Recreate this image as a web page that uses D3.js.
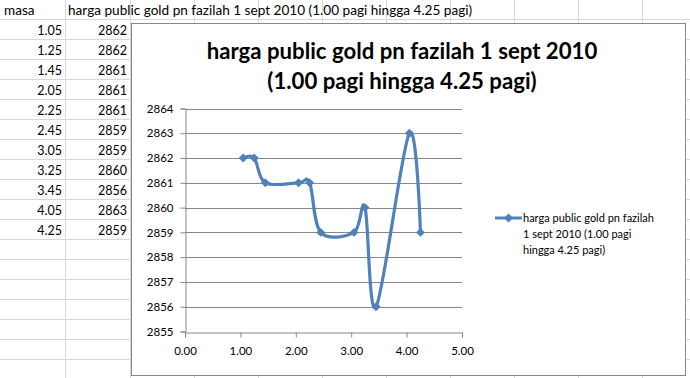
<!DOCTYPE html>
<html>
<head>
<meta charset="utf-8">
<script src="https://cdn.jsdelivr.net/npm/d3@7"></script>
<style>
  html, body { margin: 0; padding: 0; background: #fff; }
  svg { display: block; font-family: Lato, "Open Sans", sans-serif; }
</style>
</head>
<body>
<script>
// sheet columns
const masa = [1.05, 1.25, 1.45, 2.05, 2.25, 2.45, 3.05, 3.25, 3.45, 4.05, 4.25];
const harga = [2862, 2862, 2861, 2861, 2861, 2859, 2859, 2860, 2856, 2863, 2859];
const headers = ["masa", "harga public gold pn fazilah 1 sept 2010 (1.00 pagi hingga 4.25 pagi)"];

const titleLines = ["harga public gold pn fazilah 1 sept 2010", "(1.00 pagi hingga 4.25 pagi)"];
const legendLines = ["harga public gold pn fazilah", "1 sept 2010 (1.00 pagi", "hingga 4.25 pagi)"];
const yTicks = [2855, 2856, 2857, 2858, 2859, 2860, 2861, 2862, 2863, 2864];
const xTicks = [0, 1, 2, 3, 4, 5];

const width = 690;
const height = 378;
const blue = "#4f81bd";

const svg = d3.select("body").append("svg")
  .attr("width", width)
  .attr("height", height);

// spreadsheet grid behind the chart
const colLines = [65, 130, 194, 258, 322, 386, 450, 514, 578, 642];
const rowLines = d3.range(19.5, height, 20);

svg.append("g")
  .attr("stroke", "#d6d8db")
  .selectAll("line.col")
  .data(colLines)
  .join("line")
  .attr("x1", (d) => d + 0.5).attr("x2", (d) => d + 0.5)
  .attr("y1", 0).attr("y2", height);

svg.append("g")
  .attr("stroke", "#d6d8db")
  .selectAll("line.row")
  .data(rowLines)
  .join("line")
  .attr("x1", 0).attr("x2", width)
  .attr("y1", (d) => d).attr("y2", (d) => d);

const cells = svg.append("g").attr("font-size", 12.5).attr("fill", "#000");

cells.append("text").attr("x", 4).attr("y", 15).attr("font-size", 13.6).text(headers[0]);
cells.append("text").attr("x", 68).attr("y", 15).attr("font-size", 13.6).text(headers[1]);

cells.selectAll("text.masa")
  .data(masa)
  .join("text")
  .attr("x", 62)
  .attr("y", (d, i) => 35 + i * 20)
  .attr("text-anchor", "end")
  .text((d) => d.toFixed(2));

cells.selectAll("text.harga")
  .data(harga)
  .join("text")
  .attr("x", 127)
  .attr("y", (d, i) => 35 + i * 20)
  .attr("text-anchor", "end")
  .text((d) => d);

// chart object
const chart = svg.append("g");

chart.append("rect")
  .attr("x", 131.5).attr("y", 23.5)
  .attr("width", 554).attr("height", 352)
  .attr("fill", "#fff")
  .attr("stroke", "#888");

chart.append("g")
  .attr("font-size", 22.2)
  .attr("font-weight", "bold")
  .attr("text-anchor", "middle")
  .selectAll("text")
  .data(titleLines)
  .join("text")
  .attr("x", 402)
  .attr("y", (d, i) => 59 + i * 30)
  .text((d) => d);

const xScale = d3.scaleLinear().domain([0, 5]).range([185, 462]);
const yScale = d3.scaleLinear().domain([2855, 2864]).range([331.5, 108.5]);

// horizontal gridlines
chart.append("g")
  .attr("stroke", "#878787")
  .selectAll("line")
  .data(yTicks.slice(1))
  .join("line")
  .attr("x1", xScale(0)).attr("x2", xScale(5))
  .attr("y1", (d) => Math.round(yScale(d)) + 0.5)
  .attr("y2", (d) => Math.round(yScale(d)) + 0.5);

const yAxis = d3.axisLeft(yScale)
  .tickValues(yTicks)
  .tickSize(5)
  .tickPadding(7)
  .tickFormat((d) => d);

const xAxis = d3.axisBottom(xScale)
  .tickValues(xTicks)
  .tickSize(5)
  .tickPadding(9)
  .tickFormat((d) => d.toFixed(2));

const gy = chart.append("g")
  .attr("transform", `translate(${xScale(0) + 0.5} 0)`)
  .call(yAxis);

const gx = chart.append("g")
  .attr("transform", `translate(0 ${Math.round(yScale(2855)) + 0.5})`)
  .call(xAxis);

[gx, gy].forEach((g) => {
  g.select(".domain").attr("stroke", "#878787");
  g.selectAll(".tick line").attr("stroke", "#878787");
  g.selectAll(".tick text")
    .attr("font-family", "Lato, sans-serif")
    .attr("font-size", 11.5)
    .attr("fill", "#000");
});

// smoothed series line with diamond markers
const points = masa.map((m, i) => [m, harga[i]]);

const line = d3.line()
  .x((d) => xScale(d[0]))
  .y((d) => yScale(d[1]))
  .curve(d3.curveCardinal.tension(0));

chart.append("path")
  .datum(points)
  .attr("d", line)
  .attr("fill", "none")
  .attr("stroke", blue)
  .attr("stroke-width", 3.2)
  .attr("stroke-linejoin", "round");

const diamond = d3.symbol().type(d3.symbolSquare).size(40);

chart.append("g")
  .attr("fill", blue)
  .selectAll("path")
  .data(points)
  .join("path")
  .attr("d", diamond)
  .attr("transform", (d) => `translate(${xScale(d[0])} ${yScale(d[1])}) rotate(45)`);

// legend
const legend = chart.append("g").attr("transform", "translate(495 218)");

legend.append("line")
  .attr("x1", 0).attr("x2", 27)
  .attr("stroke", blue)
  .attr("stroke-width", 3);

legend.append("path")
  .attr("d", diamond)
  .attr("fill", blue)
  .attr("transform", "translate(13.5 0) rotate(45)");

legend.append("g")
  .attr("font-size", 11)
  .selectAll("text")
  .data(legendLines)
  .join("text")
  .attr("x", 28)
  .attr("y", (d, i) => 4 + i * 16)
  .text((d) => d);
</script>
</body>
</html>
